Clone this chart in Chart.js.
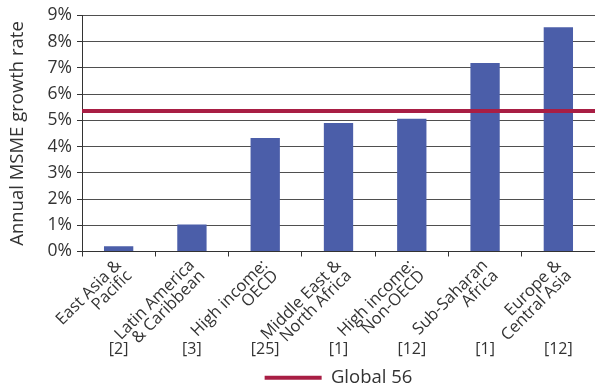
<!DOCTYPE html>
<html>
<head>
<meta charset="utf-8">
<script src="https://cdn.jsdelivr.net/npm/chart.js@4"></script>
<style>
  html, body { margin: 0; padding: 0; background: #ffffff; }
  #wrap { width: 595px; height: 387px; }
</style>
</head>
<body>
<div id="wrap"><canvas id="chart" width="595" height="387"></canvas></div>
<script>
// Regions (two-line labels), growth rates in percent, and number of economies per region
const regions = [
  ['East Asia &', 'Pacific'],
  ['Latin America', '& Caribbean'],
  ['High income:', 'OECD'],
  ['Middle East &', 'North Africa'],
  ['High income:', 'Non-OECD'],
  ['Sub-Saharan', 'Africa'],
  ['Europe &', 'Central Asia']
];
const growthRates = [0.2, 1.03, 4.33, 4.9, 5.06, 7.19, 8.55];
const economyCounts = ['[2]', '[3]', '[25]', '[1]', '[12]', '[1]', '[12]'];
const globalRate = 5.36;
const globalLabel = 'Global 56';
const yTicks = [0, 1, 2, 3, 4, 5, 6, 7, 8, 9];

const textColor = '#333333';
const fontFamily = '"Open Sans", "Noto Sans", sans-serif';

// Writes the number of economies under each region, centred on its bar
const economyCountLabels = {
  id: 'economyCountLabels',
  afterDraw(chart) {
    const xs = chart.scales.x;
    const ctx = chart.ctx;
    ctx.save();
    ctx.fillStyle = textColor;
    ctx.font = '16px ' + fontFamily;
    ctx.textAlign = 'center';
    ctx.textBaseline = 'middle';
    economyCounts.forEach((txt, i) => {
      ctx.fillText(txt, xs.getPixelForValue(i), xs.top + 98);
    });
    ctx.restore();
  }
};

new Chart(document.getElementById('chart'), {
  type: 'bar',
  data: {
    labels: regions,
    datasets: [
      {
        type: 'line',
        label: globalLabel,
        xAxisID: 'xg',
        yAxisID: 'y',
        data: [{ x: 0, y: globalRate }, { x: 1, y: globalRate }],
        borderColor: '#a81e44',
        backgroundColor: '#a81e44',
        borderWidth: 4,
        pointRadius: 0,
        pointStyle: 'line',
        order: 0
      },
      {
        type: 'bar',
        label: 'Annual MSME growth rate',
        xAxisID: 'x',
        yAxisID: 'y',
        data: growthRates,
        backgroundColor: '#4b5ea9',
        grouped: false,
        categoryPercentage: 1,
        barPercentage: 0.40,
        order: 1
      }
    ]
  },
  plugins: [economyCountLabels],
  options: {
    responsive: false,
    animation: false,
    layout: { padding: { top: 13, right: -3, left: 0, bottom: -10 } },
    plugins: {
      tooltip: { enabled: false },
      legend: {
        position: 'bottom',
        fullSize: false,
        labels: {
          filter: (item) => item.text === globalLabel,
          usePointStyle: true,
          pointStyleWidth: 57,
          color: textColor,
          padding: 0,
          font: { family: fontFamily, size: 18.5 }
        }
      }
    },
    scales: {
      xg: {
        type: 'linear',
        display: false,
        offset: false,
        min: 0,
        max: 1
      },
      x: {
        type: 'category',
        position: 'bottom',
        offset: true,
        afterFit: (axis) => { axis.height = 117; },
        grid: { drawOnChartArea: false, drawTicks: true, tickLength: 5, color: '#333333', offset: true },
        border: { display: true, color: '#333333', width: 1 },
        ticks: {
          autoSkip: false,
          minRotation: 45,
          maxRotation: 45,
          padding: 1,
          color: textColor,
          font: { family: fontFamily, size: 16.5, lineHeight: 0.9 }
        }
      },
      y: {
        min: 0,
        max: 9,
        afterFit: (axis) => { axis.width = 82; },
        afterBuildTicks: (axis) => { axis.ticks = yTicks.map(v => ({ value: v })); },
        grid: { color: '#4f4f4f', lineWidth: 1, drawTicks: true, tickLength: 5, tickColor: '#333333' },
        border: { display: true, color: '#333333', width: 1 },
        title: {
          display: true,
          text: 'Annual MSME growth rate',
          color: textColor,
          padding: { top: 7, bottom: 0 },
          font: { family: fontFamily, size: 18.5 }
        },
        ticks: {
          padding: 5,
          color: textColor,
          font: { family: fontFamily, size: 17.5 },
          callback: (v) => v + '%'
        }
      }
    }
  }
});
</script>
</body>
</html>
